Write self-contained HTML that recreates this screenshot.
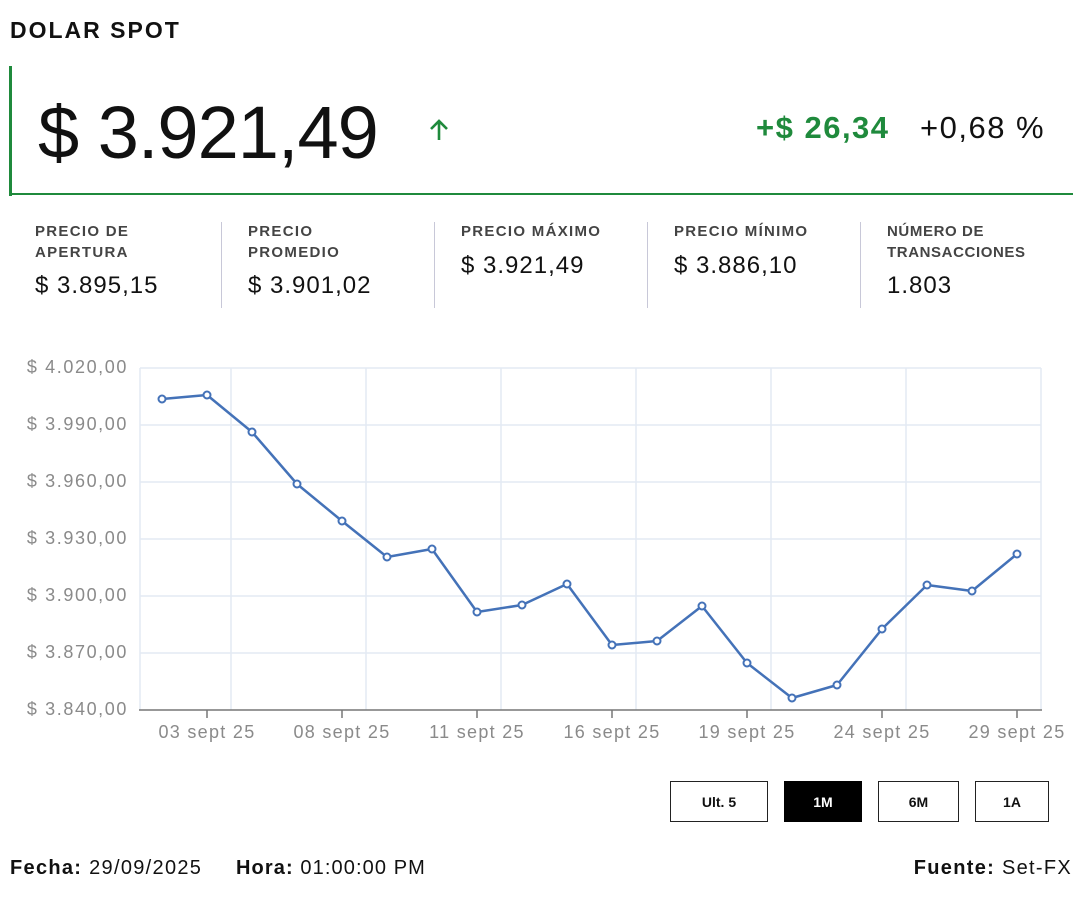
<!DOCTYPE html>
<html><head><meta charset="utf-8"><style>
*{margin:0;padding:0;box-sizing:border-box}
body{width:1080px;height:900px;background:#fff;font-family:"Liberation Sans",sans-serif;position:relative;overflow:hidden;color:#111}
.a{position:absolute;white-space:nowrap}
.lbl{font-size:15px;font-weight:bold;color:#444;line-height:21px;letter-spacing:1.3px}
.val{font-size:24px;color:#111;letter-spacing:1px}
.sep{position:absolute;width:1px;background:#c8c8d8;top:222px;height:86px}
.btn{position:absolute;top:781px;height:41px;border:1.5px solid #222;font-size:14px;font-weight:bold;display:flex;align-items:center;justify-content:center}
</style></head><body>
<div class="a" style="left:10px;top:17px;font-size:23px;font-weight:bold;letter-spacing:2px">DOLAR SPOT</div>
<div class="a" style="left:9px;top:66px;width:3px;height:130px;background:#1f8a3c"></div>
<div class="a" style="left:9px;top:193px;width:1064px;height:2px;background:#1f8a3c"></div>
<div class="a" style="left:38px;top:88px;font-size:74px;line-height:90px;letter-spacing:-1px">$ 3.921,49</div>
<svg class="a" style="left:428px;top:118px" width="22" height="24"><path d="M11 3 V22 M3 11 L11 3 L19 11" stroke="#1f8a3c" stroke-width="2.6" fill="none"/></svg>
<div class="a" style="left:756px;top:110px;font-size:31px;color:#1f8a3c;font-weight:bold;letter-spacing:1.5px">+$ 26,34</div>
<div class="a" style="left:920px;top:110px;font-size:31px;color:#111;letter-spacing:1.5px">+0,68 %</div>

<div class="a lbl" style="left:35px;top:221px">PRECIO DE<br>APERTURA</div>
<div class="a val" style="left:35px;top:272px">$ 3.895,15</div>
<div class="sep" style="left:221px"></div>
<div class="a lbl" style="left:248px;top:221px">PRECIO<br>PROMEDIO</div>
<div class="a val" style="left:248px;top:272px">$ 3.901,02</div>
<div class="sep" style="left:434px"></div>
<div class="a lbl" style="left:461px;top:221px">PRECIO MÁXIMO</div>
<div class="a val" style="left:461px;top:252px">$ 3.921,49</div>
<div class="sep" style="left:647px"></div>
<div class="a lbl" style="left:674px;top:221px">PRECIO MÍNIMO</div>
<div class="a val" style="left:674px;top:252px">$ 3.886,10</div>
<div class="sep" style="left:860px"></div>
<div class="a lbl" style="left:887px;top:221px;letter-spacing:0.6px">NÚMERO DE<br>TRANSACCIONES</div>
<div class="a val" style="left:887px;top:272px">1.803</div>

<svg class="a" style="left:0;top:0" width="1080" height="900">
<g stroke="#e3eaf4" stroke-width="1.5" fill="none">
<line x1="140" y1="368" x2="1041" y2="368"/><line x1="140" y1="425" x2="1041" y2="425"/><line x1="140" y1="482" x2="1041" y2="482"/><line x1="140" y1="539" x2="1041" y2="539"/><line x1="140" y1="596" x2="1041" y2="596"/><line x1="140" y1="653" x2="1041" y2="653"/>
<line x1="140" y1="368" x2="140" y2="710"/><line x1="231" y1="368" x2="231" y2="710"/><line x1="366" y1="368" x2="366" y2="710"/><line x1="501" y1="368" x2="501" y2="710"/><line x1="636" y1="368" x2="636" y2="710"/><line x1="771" y1="368" x2="771" y2="710"/><line x1="906" y1="368" x2="906" y2="710"/><line x1="1041" y1="368" x2="1041" y2="710"/>
</g>
<g stroke="#777" stroke-width="1.5">
<line x1="139" y1="710" x2="1042" y2="710"/>
<line x1="207" y1="710" x2="207" y2="718"/><line x1="342" y1="710" x2="342" y2="718"/><line x1="477" y1="710" x2="477" y2="718"/><line x1="612" y1="710" x2="612" y2="718"/><line x1="747" y1="710" x2="747" y2="718"/><line x1="882" y1="710" x2="882" y2="718"/><line x1="1017" y1="710" x2="1017" y2="718"/>
</g>
<g font-family="Liberation Sans" font-size="18" fill="#8a8a8a" text-anchor="end" letter-spacing="1.6">
<text x="128" y="373">$ 4.020,00</text><text x="128" y="430">$ 3.990,00</text><text x="128" y="487">$ 3.960,00</text><text x="128" y="544">$ 3.930,00</text><text x="128" y="601">$ 3.900,00</text><text x="128" y="658">$ 3.870,00</text><text x="128" y="715">$ 3.840,00</text>
</g>
<g font-family="Liberation Sans" font-size="18" fill="#8a8a8a" text-anchor="middle" letter-spacing="1.3">
<text x="207" y="738">03 sept 25</text><text x="342" y="738">08 sept 25</text><text x="477" y="738">11 sept 25</text><text x="612" y="738">16 sept 25</text><text x="747" y="738">19 sept 25</text><text x="882" y="738">24 sept 25</text><text x="1017" y="738">29 sept 25</text>
</g>
<polyline fill="none" stroke="#4472b8" stroke-width="2.5" stroke-linejoin="round" points="162,399 207,395 252,432 297,484 342,521 387,557 432,549 477,612 522,605 567,584 612,645 657,641 702,606 747,663 792,698 837,685 882,629 927,585 972,591 1017,554"/>
<g fill="#fff" stroke="#4472b8" stroke-width="2">
<circle cx="162" cy="399" r="3.5"/><circle cx="207" cy="395" r="3.5"/><circle cx="252" cy="432" r="3.5"/><circle cx="297" cy="484" r="3.5"/><circle cx="342" cy="521" r="3.5"/><circle cx="387" cy="557" r="3.5"/><circle cx="432" cy="549" r="3.5"/><circle cx="477" cy="612" r="3.5"/><circle cx="522" cy="605" r="3.5"/><circle cx="567" cy="584" r="3.5"/><circle cx="612" cy="645" r="3.5"/><circle cx="657" cy="641" r="3.5"/><circle cx="702" cy="606" r="3.5"/><circle cx="747" cy="663" r="3.5"/><circle cx="792" cy="698" r="3.5"/><circle cx="837" cy="685" r="3.5"/><circle cx="882" cy="629" r="3.5"/><circle cx="927" cy="585" r="3.5"/><circle cx="972" cy="591" r="3.5"/><circle cx="1017" cy="554" r="3.5"/>
</g>
</svg>

<div class="btn" style="left:670px;width:98px">Ult. 5</div>
<div class="btn" style="left:784px;width:78px;background:#000;color:#fff;border-color:#000">1M</div>
<div class="btn" style="left:878px;width:81px">6M</div>
<div class="btn" style="left:975px;width:74px">1A</div>

<div class="a" style="left:10px;top:857px;font-size:20px;letter-spacing:1.3px"><b>Fecha:</b> 29/09/2025</div>
<div class="a" style="left:236px;top:857px;font-size:20px;letter-spacing:1.1px"><b>Hora:</b> 01:00:00 PM</div>
<div class="a" style="right:8px;top:857px;font-size:20px;letter-spacing:1.3px"><b>Fuente:</b> Set-FX</div>
</body></html>
